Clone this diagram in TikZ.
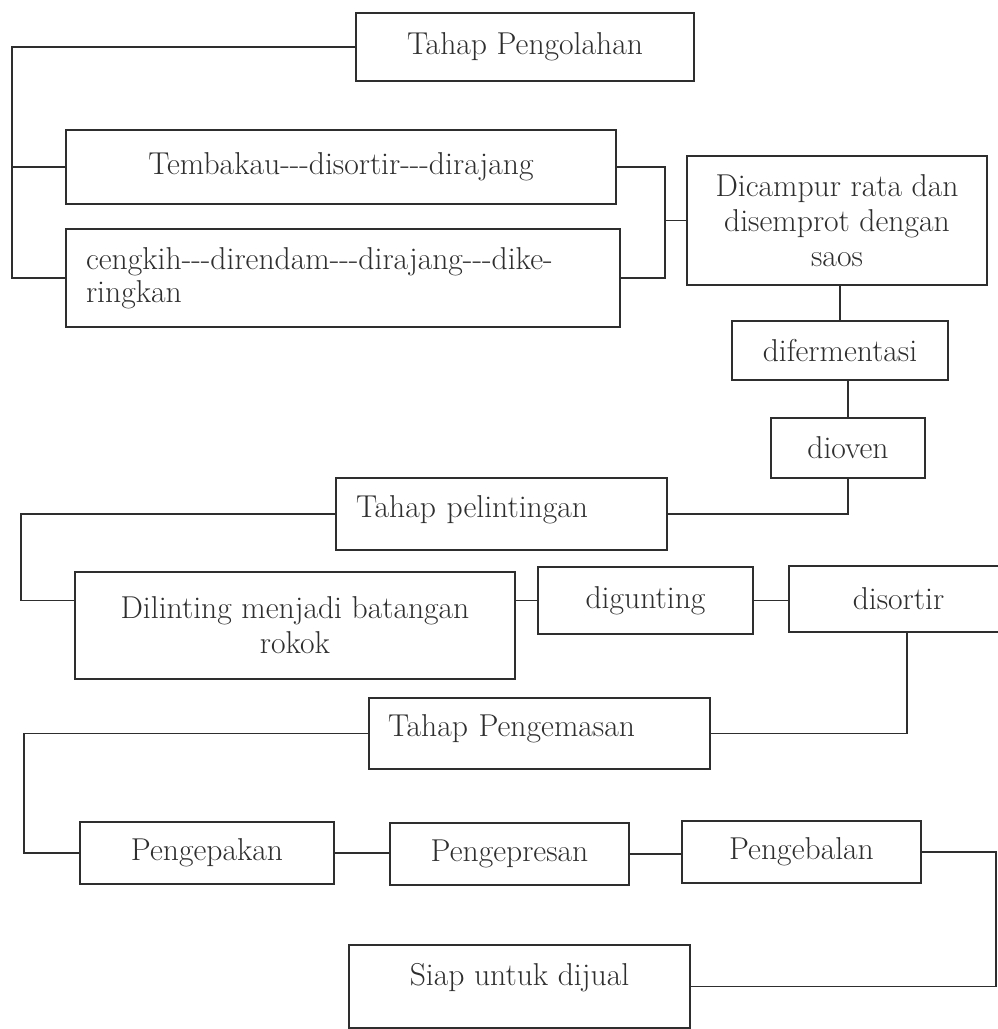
\documentclass[tikz,border=0pt]{standalone}
\usepackage{tikz}
\definecolor{ink}{HTML}{2E2E2E}
\tikzset{node distance=2cm, auto}
\tikzset{box/.style={draw=ink, line width=0.9pt, text=ink, inner sep=0pt, align=center,
  font=\fontsize{18}{20}\selectfont}}

\begin{document}
\begin{tikzpicture}[x=0.02cm, y=-0.02cm, line width=0.9pt, draw=ink]
  \useasboundingbox (0,0) rectangle (998,1029);
  \clip (0,0) rectangle (998,1029);

  \node[box, minimum width=6.76cm, minimum height=1.36cm] (olah) at (525,47) {Tahap Pengolahan};
  \node[box, minimum width=11cm, minimum height=1.48cm] (tmb) at (341,167) {Tembakau-{}-{}-disortir-{}-{}-dirajang};
  \node[box, minimum width=11.08cm, minimum height=1.96cm, text width=10.28cm, align=left,
    font=\fontsize{18}{19}\selectfont] (ckh) at (343,278) {cengkih-{}-{}-direndam-{}-{}-dirajang-{}-{}-dike-\\ringkan};
  \node[box, minimum width=6cm, minimum height=2.58cm] (mix) at (837,220.5) {Dicampur rata dan\\disemprot dengan\\saos};
  \node[box, minimum width=4.32cm, minimum height=1.18cm] (fer) at (840,350.5) {difermentasi};
  \node[box, minimum width=3.08cm, minimum height=1.2cm] (dov) at (848,448) {dioven};

  \node[box, minimum width=6.62cm, minimum height=1.44cm, text width=5.82cm, align=left,
    text depth=0.3cm] (pel) at (501.5,514) {Tahap pelintingan};
  \node[box, minimum width=8.8cm, minimum height=2.14cm] (dil) at (295,625.5) {Dilinting menjadi batangan\\rokok};
  \node[box, minimum width=4.3cm, minimum height=1.34cm] (dig) at (645.5,600.5) {digunting};
  \node[box, minimum width=4.38cm, minimum height=1.32cm] (srt) at (898.5,599) {disortir};

  \node[box, minimum width=6.82cm, minimum height=1.42cm, text width=6.06cm, align=left,
    text depth=0.3cm] (kms) at (539.5,733.5) {Tahap Pengemasan};
  \node[box, minimum width=5.08cm, minimum height=1.24cm] (pak) at (207,853) {Pengepakan};
  \node[box, minimum width=4.78cm, minimum height=1.24cm] (pres) at (509.5,854) {Pengepresan};
  \node[box, minimum width=4.78cm, minimum height=1.24cm] (bal) at (801.5,852) {Pengebalan};
  \node[box, minimum width=6.82cm, minimum height=1.66cm, text depth=0.5cm] (jual) at (519.5,986.5) {Siap untuk dijual};

  % bus lines
  \coordinate (busa) at (12,0);
  \coordinate (jn) at (665,0);
  \coordinate (busb) at (21,0);
  \coordinate (srtdown) at (907,0);
  \coordinate (busc) at (24,0);
  \coordinate (busd) at (996,0);

  \draw (olah.west) -| (busa |- ckh.west) -- (ckh.west);
  \draw (busa |- tmb.west) -- (tmb.west);
  \draw (tmb.east) -| (jn |- mix.west) -- (mix.west);
  \draw (ckh.east) -| (jn |- mix.west);
  \draw (fer.north |- mix.south) -- (fer.north);
  \draw (dov.north |- fer.south) -- (dov.north);
  \draw (dov.south) |- (pel.east);

  \draw (pel.west) -| (busb |- dig.west) -- (dil.west |- dig.west);
  \draw (dil.east |- dig.west) -- (dig.west);
  \draw (dig.east) -- (srt.west |- dig.east);
  \draw (srtdown |- srt.south) |- (kms.east);

  \draw (kms.west) -| (busc |- pak.west) -- (pak.west);
  \draw (pak.east) -- (pres.west |- pak.east);
  \draw (pres.east) -- (bal.west |- pres.east);
  \draw (bal.east) -| (busd |- jual.east) -- (jual.east);
\end{tikzpicture}
\end{document}
